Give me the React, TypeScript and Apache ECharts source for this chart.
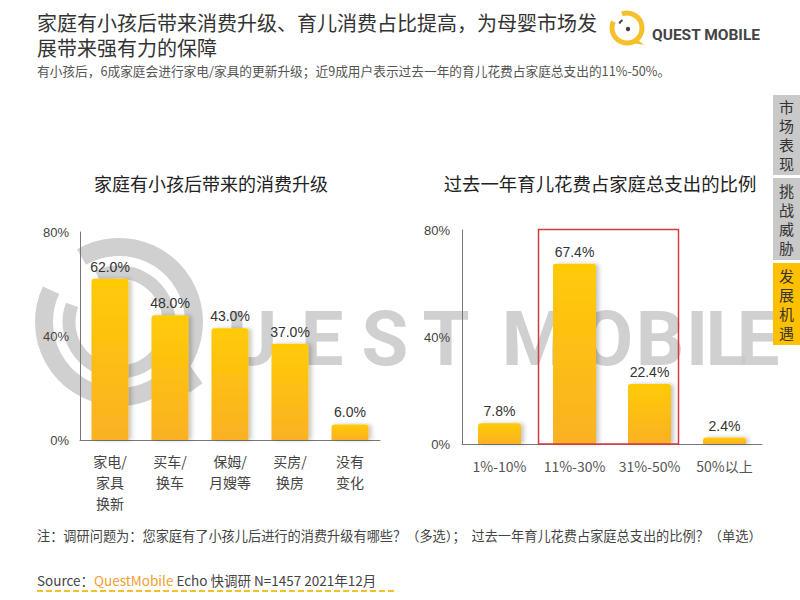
import React, { useEffect, useRef } from "react";
import * as echarts from "echarts";

const upgradeCategories = ["家电/\n家具\n换新", "买车/\n换车", "保姆/\n月嫂等", "买房/\n换房", "没有\n变化"];
const upgradeValues = [62.0, 48.0, 43.0, 37.0, 6.0];
const shareCategories = ["1%-10%", "11%-30%", "31%-50%", "50%以上"];
const shareValues = [7.8, 67.4, 22.4, 2.4];
const yMax = 80;
const yInterval = 40;

const titleLines = ["家庭有小孩后带来消费升级、育儿消费占比提高，为母婴市场发", "展带来强有力的保障"];
const subtitle = "有小孩后，6成家庭会进行家电/家具的更新升级；近9成用户表示过去一年的育儿花费占家庭总支出的11%-50%。";
const chartTitles = ["家庭有小孩后带来的消费升级", "过去一年育儿花费占家庭总支出的比例"];
const note = "注：调研问题为：您家庭有了小孩儿后进行的消费升级有哪些？（多选）；  过去一年育儿花费占家庭总支出的比例？（单选）";
const tabs = ["市场表现", "挑战威胁", "发展机遇"];
const watermarkLetters = ["U", "E", "S", "T", "M", "O", "B", "I", "L", "E"];
const watermarkCenters = [252, 322, 385, 446, 535, 607, 660, 697, 726, 758];

const CJK = "'Noto Sans CJK SC', 'Noto Sans', sans-serif";
const NUM = "'Liberation Sans', Arial, 'Noto Sans CJK SC', sans-serif";

export default function App() {
  const ref = useRef<HTMLDivElement>(null);
  useEffect(() => {
    if (!ref.current) return;
    const chart = echarts.init(ref.current, null, { renderer: "svg" });
    const barColor = new echarts.graphic.LinearGradient(0, 0, 0, 1, [
      { offset: 0, color: "#FFCB05" },
      { offset: 1, color: "#FBB124" },
    ]);
    const barStyle = {
      color: barColor,
      borderRadius: [3, 3, 0, 0],
      shadowColor: "rgba(0,0,0,0.22)",
      shadowBlur: 4,
      shadowOffsetX: 3,
      shadowOffsetY: 0,
    };
    const valueLabel = {
      show: true,
      position: "top",
      distance: 5,
      fontSize: 14,
      color: "#333",
      fontFamily: NUM,
      formatter: (p: any) => Number(p.value).toFixed(1) + "%",
    };
    const yAxisBase = (gridIndex: number, margin: number) => ({
      type: "value",
      gridIndex,
      min: 0,
      max: yMax,
      interval: yInterval,
      axisLine: { show: true, lineStyle: { color: "#777", width: 1 } },
      axisTick: { show: false },
      splitLine: { show: false },
      axisLabel: { formatter: "{value}%", fontSize: 13, color: "#444", fontFamily: NUM, margin },
    });
    const wmColor = "rgba(200,200,200,0.85)";
    const deg = (d: number) => (d * Math.PI) / 180;
    const graphics: any[] = [
      // watermark Q rings
      {
        type: "arc", z: -10, silent: true,
        shape: { cx: 119, cy: 322, r: 75, startAngle: deg(240), endAngle: deg(205), clockwise: true },
        style: { stroke: wmColor, lineWidth: 18, fill: null },
      },
      {
        type: "arc", z: -10, silent: true,
        shape: { cx: 119, cy: 322, r: 50, startAngle: deg(245), endAngle: deg(200), clockwise: true },
        style: { stroke: wmColor, lineWidth: 13, fill: null },
      },
      {
        type: "line", z: -10, silent: true,
        shape: { x1: 158, y1: 335, x2: 196, y2: 388 },
        style: { stroke: wmColor, lineWidth: 16 },
      },
      // main title
      {
        type: "text", x: 37, y: 10,
        style: { text: titleLines.join("\n"), font: `20px ${CJK}`, fill: "#333", lineHeight: 25 },
      },
      {
        type: "text", x: 37, y: 64,
        style: { text: subtitle, font: `12.7px ${CJK}`, fill: "#555" },
      },
      // logo
      {
        type: "arc",
        shape: { cx: 627, cy: 28, r: 15, startAngle: deg(250), endAngle: deg(205), clockwise: true },
        style: { stroke: "#F6C02C", lineWidth: 5, fill: null },
      },
      {
        type: "arc",
        shape: { cx: 627, cy: 28, r: 9, startAngle: deg(240), endAngle: deg(210), clockwise: false },
        style: { stroke: "#444", lineWidth: 2, fill: null },
      },
      { type: "circle", shape: { cx: 628, cy: 29, r: 2.2 }, style: { fill: "#444" } },
      { type: "polygon", shape: { points: [[636, 38], [644, 45], [632, 43]] }, style: { fill: "#F6C02C" } },
      {
        type: "text", x: 652, y: 35,
        style: { text: "QUEST MOBILE", font: `bold 15.5px Roboto, 'Liberation Sans', sans-serif`, fill: "#444", textVerticalAlign: "middle" },
      },
      // chart titles
      {
        type: "text", x: 211, y: 183,
        style: { text: chartTitles[0], font: `18px ${CJK}`, fill: "#222", textAlign: "center", textVerticalAlign: "middle" },
      },
      {
        type: "text", x: 600, y: 183,
        style: { text: chartTitles[1], font: `18.4px ${CJK}`, fill: "#222", textAlign: "center", textVerticalAlign: "middle" },
      },
      // red highlight box
      {
        type: "rect", z: 20,
        shape: { x: 538.5, y: 229.5, width: 140, height: 214.5 },
        style: { fill: null, stroke: "#D63A3F", lineWidth: 1.5 },
      },
      // note and source
      {
        type: "text", x: 37, y: 535,
        style: { text: note, font: `13.2px ${CJK}`, fill: "#444", textVerticalAlign: "middle" },
      },
      {
        type: "text", x: 37, y: 580,
        style: {
          text: "{a|Source：}{b|QuestMobile}{a| Echo 快调研 N=1457 2021年12月}",
          textVerticalAlign: "middle",
          rich: {
            a: { font: `13.5px ${CJK}`, fill: "#444" },
            b: { font: `13.5px ${CJK}`, fill: "#F0A030" },
          },
        },
      },
      {
        type: "line",
        shape: { x1: 37, y1: 591, x2: 395, y2: 591 },
        style: { stroke: "#F6C02C", lineWidth: 2, lineDash: [6, 3] },
      },
    ];
    watermarkLetters.forEach((ch, i) => {
      graphics.push({
        type: "text", z: -10, silent: true, x: watermarkCenters[i], y: 339,
        style: { text: ch, font: `bold 76px Roboto, 'DejaVu Sans', sans-serif`, fill: wmColor, textAlign: "center", textVerticalAlign: "middle" },
      });
    });
    const tabY = [[95, 80], [178, 82], [263, 82]];
    tabs.forEach((t, i) => {
      const active = i === 2;
      graphics.push({
        type: "rect",
        shape: { x: 773, y: tabY[i][0], width: 27, height: tabY[i][1] },
        style: { fill: active ? "#FFC000" : "#C9C9C9" },
      });
      graphics.push({
        type: "text", x: 786.5, y: tabY[i][0] + tabY[i][1] / 2,
        style: { text: t.split("").join("\n"), font: `15px ${CJK}`, fill: "#333", lineHeight: 19, textAlign: "center", textVerticalAlign: "middle" },
      });
    });

    chart.setOption({
      animation: false,
      backgroundColor: "#fff",
      graphic: graphics,
      grid: [
        { left: 80, top: 232, width: 300, height: 208 },
        { left: 462, top: 230, width: 300, height: 214 },
      ],
      xAxis: [
        {
          type: "category", gridIndex: 0, data: upgradeCategories,
          axisLine: { lineStyle: { color: "#777" } },
          axisTick: { show: false },
          axisLabel: { fontSize: 14, color: "#444", fontFamily: CJK, lineHeight: 21, margin: 10, interval: 0 },
        },
        {
          type: "category", gridIndex: 1, data: shareCategories,
          axisLine: { lineStyle: { color: "#777" } },
          axisTick: { show: false },
          axisLabel: { fontSize: 14, color: "#555", fontFamily: CJK, margin: 15, interval: 0 },
        },
      ],
      yAxis: [yAxisBase(0, 11), yAxisBase(1, 12)],
      series: [
        {
          type: "bar", xAxisIndex: 0, yAxisIndex: 0, data: upgradeValues,
          barWidth: 37, itemStyle: barStyle, label: valueLabel, z: 5,
        },
        {
          type: "bar", xAxisIndex: 1, yAxisIndex: 1, data: shareValues,
          barWidth: 43, itemStyle: barStyle, label: valueLabel, z: 5,
        },
      ],
    });
    return () => chart.dispose();
  }, []);
  return <div ref={ref} style={{ position: "fixed", left: 0, top: 0, width: 800, height: 600 }} />;
}
